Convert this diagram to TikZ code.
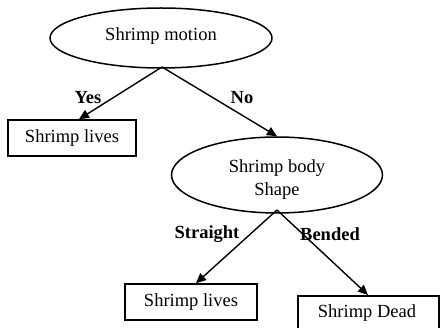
\documentclass[tikz,border=0pt]{standalone}
\usepackage{fontspec}
\setmainfont{Liberation Serif}
\usetikzlibrary{shapes.geometric,arrows.meta}
\begin{document}
\begin{tikzpicture}[x=1pt,y=-1pt,
  every node/.style={font=\fontsize{18.5}{22}\selectfont},
  oval/.style={draw,ellipse,line width=1.5pt,inner sep=0pt},
  box/.style={draw,rectangle,line width=1.6pt,inner sep=0pt},
  lbl/.style={font=\fontsize{18.5}{22}\selectfont\bfseries},
  conn/.style={line width=1.4pt,-{Triangle[length=10pt,width=9pt]}}]
\path[use as bounding box] (0,0) rectangle (444,328);
\clip (0,0) rectangle (444,328);
\node[oval,minimum width=222pt,minimum height=60pt] (e1) at (161,38) {};
\node (t1) at (161,36) {Shrimp motion};
\node[box,minimum width=128pt,minimum height=36pt] (b1) at (72,138) {Shrimp lives};
\node[oval,minimum width=211pt,minimum height=76pt] (e2) at (277,175) {};
\node[align=center,font=\fontsize{18.5}{23}\selectfont] (t2) at (277,179.5) {Shrimp body\\Shape};
\node[box,minimum width=132pt,minimum height=36pt] (b2) at (191,302) {Shrimp lives};
\node[box,minimum width=141pt,minimum height=38pt,anchor=north west] (b3) at (297,295) {};
\node (t3) at (367,313) {Shrimp Dead};
\coordinate (p1) at (162,67);
\coordinate (p2) at (277,210);
\draw[conn] (p1) -- (b1.north -| 79,0);
\draw[conn] (p1) -- (e2.north);
\draw[conn] (p2) -- (b2.north -| 196,0);
\draw[conn] (p2) -- (b3.north -| 368,0);
\node[lbl] (yes) at (88,98) {Yes};
\node[lbl] (no) at (242,98) {No};
\node[lbl] (st) at (207,234) {Straight};
\node[lbl] (be) at (330,234) {Bended};
\end{tikzpicture}
\end{document}
